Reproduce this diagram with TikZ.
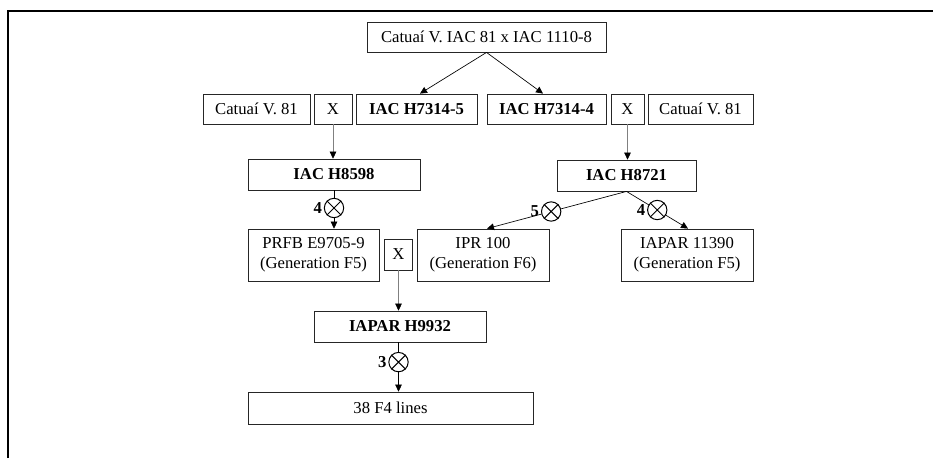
\documentclass[tikz,border=0pt]{standalone}
\usepackage{fontspec}
\setmainfont{Liberation Serif}
\usetikzlibrary{arrows.meta}
\newcommand\pxu{0.6pt}
\begin{document}
\begin{tikzpicture}[x=0.6pt,y=-0.6pt,
  box/.style={draw=black!85, line width=0.5pt, inner sep=0pt, align=center,
    font=\fontsize{10}{12}\selectfont},
  bbox/.style={box, font=\fontsize{10}{12}\selectfont\bfseries},
  arr/.style={-{Triangle[length=4.2pt,width=4pt,color=black]}, line width=0.4pt, draw=black},
  garr/.style={arr, draw=black!50},
  selfing/.style={circle, draw=black, fill=white, line width=0.6pt, minimum size=11.6pt, inner sep=0pt},
  num/.style={anchor=east, inner sep=1pt, font=\fontsize{10}{12}\selectfont\bfseries},
  frame/.style={line width=1.5pt, draw=black}
]
\useasboundingbox (0,0) rectangle (933,458);
% frame
\coordinate (fa) at (8,458);
\coordinate (fb) at (8,11);
\coordinate (fc) at (933,11);
\draw[frame] (fa) -- (fb) -- (fc);

% nodes
\node[box, minimum width=239*\pxu, minimum height=30*\pxu] (top) at (486.5,37) {Catuaí V. IAC 81 x IAC 1110-8};
\node[box, minimum width=107*\pxu, minimum height=30*\pxu] (cat1) at (256.5,109) {Catuaí V. 81};
\node[box, minimum width=38*\pxu, minimum height=30*\pxu] (x1) at (333,109) {X};
\node[bbox, minimum width=121*\pxu, minimum height=30*\pxu] (h5) at (416.5,109) {IAC H7314-5};
\node[bbox, minimum width=119*\pxu, minimum height=30*\pxu] (h4) at (546.5,109) {IAC H7314-4};
\node[box, minimum width=33*\pxu, minimum height=30*\pxu] (x2) at (627.5,109) {X};
\node[box, minimum width=105*\pxu, minimum height=30*\pxu] (cat2) at (700.5,109) {Catuaí V. 81};
\node[bbox, minimum width=172*\pxu, minimum height=31*\pxu] (h8598) at (334,174.5) {IAC H8598};
\node[bbox, minimum width=139*\pxu, minimum height=31*\pxu] (h8721) at (626.5,175.5) {IAC H8721};
\node[box, minimum width=131*\pxu, minimum height=52*\pxu] (prfb) at (313.5,255) {PRFB E9705-9\\(Generation F5)};
\node[box, minimum width=28*\pxu, minimum height=31*\pxu] (x3) at (398.5,254.5) {X};
\node[box, minimum width=132*\pxu, minimum height=52*\pxu] (ipr) at (483,255) {IPR 100\\(Generation F6)};
\node[box, minimum width=132*\pxu, minimum height=52*\pxu] (iapar) at (687,255) {IAPAR 11390\\(Generation F5)};
\node[bbox, minimum width=172*\pxu, minimum height=31*\pxu] (h9932) at (400,326.5) {IAPAR H9932};
\node[box, minimum width=285*\pxu, minimum height=32*\pxu] (f4) at (390.5,408) {38 F4 lines};

% connectors
\draw[arr] (top.south) -- ([xshift=3.5*\pxu]h5.north);
\draw[arr] (top.south) -- ([xshift=-3.5*\pxu]h4.north);
\draw[garr] (x1.south) -- (x1.south |- h8598.north);
\draw[garr] (x2.south) -- (x2.south |- h8721.north);
\draw[garr] (x3.south) -- (x3.south |- h9932.north);

\draw[arr] (h8598.south) -- node[selfing, pos=0.46] (c1) {} (h8598.south |- prfb.north);
\draw[arr] (h8721.south) -- node[selfing, pos=0.54] (c2) {} ([xshift=4*\pxu]ipr.north);
\draw[arr] (h8721.south) -- node[selfing, pos=0.5] (c3) {} ([xshift=1*\pxu]iapar.north);
\draw[arr] (x3.south |- h9932.south) -- node[selfing, pos=0.4] (c4) {} (x3.south |- f4.north);

\foreach \c in {c1,c2,c3,c4}{
  \draw[line width=0.6pt] (\c.45) -- (\c.225) (\c.135) -- (\c.315);
}
\node[num] (n1) at (c1.west) {4};
\node[num] (n2) at (c2.west) {5};
\node[num] (n3) at (c3.west) {4};
\node[num] (n4) at (c4.west) {3};
\end{tikzpicture}
\end{document}
